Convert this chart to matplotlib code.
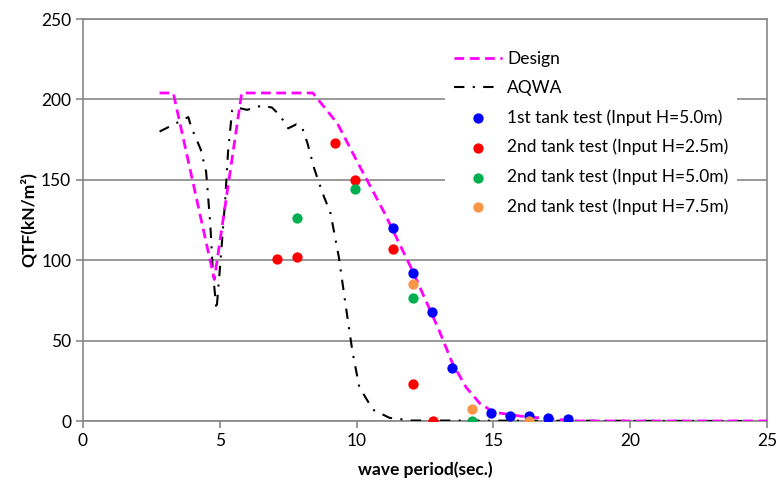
import matplotlib
matplotlib.use("Agg")
import matplotlib.pyplot as plt

plt.rcParams['font.family'] = ['Lato', 'DejaVu Sans']

# design curve
design_T = [2.8, 3.3, 4.8, 5.8, 8.4, 9.3, 10.0, 11.0, 12.0, 13.0, 13.5, 14.0, 14.5, 15.0, 16.0, 17.0, 18.0, 25.0]
design_Q = [204, 204, 88, 204, 204, 185, 162, 130, 95, 57, 36, 21, 11, 5.5, 3.0, 1.5, 0, 0]

# AQWA result
aqwa_T = [2.8, 3.85, 3.95, 4.3, 4.5, 4.65, 4.75, 4.88, 5.0, 5.2, 5.3, 5.45, 5.6, 6.0, 6.5, 6.9,
          7.2, 7.5, 7.8, 8.0, 8.2, 8.45, 8.75, 9.05, 9.35, 9.6, 9.85, 10.1, 10.6, 11.2, 12.0, 25.0]
aqwa_Q = [180, 189, 183, 169, 155, 123, 92, 69, 94, 138, 167, 193, 195, 193.5, 196, 195,
          190, 182, 184.5, 183, 173, 157, 142, 129, 102, 72, 43, 21, 7, 2, 0.3, 0]

# tank tests
t1_T = [11.34, 12.05, 12.77, 13.47, 14.9, 15.6, 16.3, 17.0, 17.74]
t1_Q = [120, 92, 67.5, 33, 5.2, 3.1, 3.1, 1.7, 1.0]

t2a_T = [7.1, 7.81, 9.21, 9.94, 11.34, 12.05, 12.78]
t2a_Q = [101, 102, 173, 150, 107, 23, 0]

t2b_T = [7.81, 9.94, 12.05, 14.2]
t2b_Q = [126, 144.5, 76.5, 0]

t2c_T = [12.05, 14.2, 16.3]
t2c_Q = [85, 7.3, 0]

grid_c = '#878787'
fs = 12.5

fig = plt.figure(figsize=(7.77, 4.86), dpi=100)
ax = fig.add_axes([83 / 777, 65 / 486, 684 / 777, 402 / 486])

ax.plot(aqwa_T, aqwa_Q, color='black', lw=1.5, linestyle=(0, (5, 4, 1, 4)), label='AQWA', zorder=3)
ax.plot(design_T, design_Q, color='#FF00FF', lw=2, linestyle=(0, (3.5, 2)), label='Design', zorder=4)

ms = 55
ax.scatter(t1_T, t1_Q, s=ms, color='#0000FF', label='1st tank test (Input H=5.0m)', zorder=5, linewidths=0)
ax.scatter(t2a_T, t2a_Q, s=ms, color='#FF0000', label='2nd tank test (Input H=2.5m)', zorder=5, linewidths=0)
ax.scatter(t2b_T, t2b_Q, s=ms, color='#00B050', label='2nd tank test (Input H=5.0m)', zorder=5, linewidths=0)
ax.scatter(t2c_T, t2c_Q, s=ms, color='#F79646', label='2nd tank test (Input H=7.5m)', zorder=5, linewidths=0)

ax.set_xlim(0, 25)
ax.set_ylim(0, 250)
ax.set_xticks(range(0, 26, 5))
ax.set_yticks(range(0, 251, 50))
ax.yaxis.grid(True, color=grid_c, lw=1.2)
ax.set_axisbelow(True)
for s in ax.spines.values():
    s.set_color(grid_c)
    s.set_linewidth(1.2)
ax.tick_params(axis='both', colors=grid_c, labelcolor='black', labelsize=fs, length=5, width=1.2)

ax.set_xlabel('wave period(sec.)', fontsize=fs, fontweight='bold', labelpad=9)
ax.set_ylabel('QTF(kN/m²)', fontsize=fs, fontweight='bold', labelpad=3)

handles, labels = ax.get_legend_handles_labels()
order = [1, 0, 2, 3, 4, 5]
leg = ax.legend([handles[i] for i in order], [labels[i] for i in order],
                loc='upper left', bbox_to_anchor=(0.529, 0.943), borderaxespad=0,
                fontsize=fs, frameon=True, fancybox=False, framealpha=1,
                handlelength=2.8, handletextpad=0.3, labelspacing=0.76, borderpad=0.5)
leg.get_frame().set_edgecolor('none')
leg.get_frame().set_facecolor('white')

fig.savefig('out.png', dpi=100)
